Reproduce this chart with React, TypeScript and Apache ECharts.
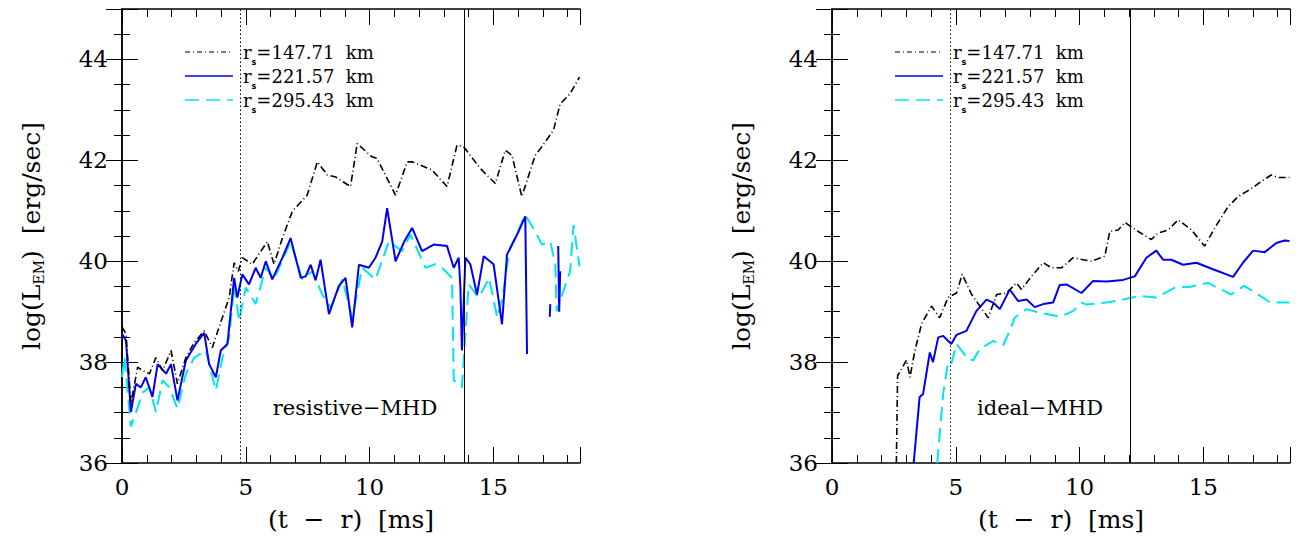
import { useRef, useEffect } from "react"
import * as echarts from "echarts"

const legendNames = ["147.71", "221.57", "295.43"]
const xTicks = [0, 5, 10, 15]
const yTicks = [36, 38, 40, 42, 44]
const panelTitles = ["resistive−MHD", "ideal−MHD"]
const dottedLineX = [4.78, 4.78]
const solidLineX = [13.83, 12.06]

const resBlack = [
  [0, 38.7], [0.16, 38.56], [0.36, 37.18], [0.63, 37.9], [0.84, 37.83], [1.11, 37.77], [1.37, 38.09],
  [1.64, 37.83], [1.98, 38.23], [2.24, 37.57], [2.58, 38.09], [2.92, 38.39], [3.32, 38.62], [3.65, 38.29],
  [3.92, 38.69], [4.33, 39.28], [4.53, 39.97], [4.7, 39.8], [4.86, 40.07], [5.26, 39.94], [5.87, 40.39],
  [6.14, 39.94], [6.48, 40.46], [6.88, 40.99], [7.48, 41.31], [7.89, 41.97], [8.29, 41.71], [8.63, 41.67],
  [9.23, 41.48], [9.5, 42.33], [10.1, 42.07], [10.3, 42.04], [11.05, 41.31], [11.52, 41.97], [11.72, 41.97],
  [12.52, 41.81], [13.13, 41.48], [13.53, 42.3], [13.8, 42.27], [14.47, 41.84], [15.08, 41.54], [15.48, 42.2],
  [15.75, 42.1], [16.15, 41.28], [16.69, 42.1], [16.96, 42.27], [17.43, 42.6], [17.7, 43.12], [18.1, 43.32],
  [18.48, 43.65],
]
const resBlue = [
  [0, 38.56], [0.16, 38.43], [0.36, 37.01], [0.56, 37.57], [0.76, 37.5], [0.96, 37.7], [1.23, 37.31],
  [1.44, 37.96], [1.78, 37.77], [1.98, 37.96], [2.24, 37.24], [2.58, 38.03], [2.98, 38.36], [3.32, 38.58],
  [3.52, 37.96], [3.79, 37.7], [3.99, 38.23], [4.26, 38.36], [4.53, 39.67], [4.66, 39.28], [4.86, 39.74],
  [5.13, 39.54], [5.4, 39.87], [5.6, 39.67], [5.81, 40.0], [6.07, 39.64], [6.48, 40.07], [6.81, 40.46],
  [7.22, 39.67], [7.42, 39.7], [7.62, 39.93], [7.82, 39.62], [8.02, 40.03], [8.36, 38.95], [8.76, 39.51],
  [9.03, 39.67], [9.3, 38.69], [9.57, 39.93], [9.97, 39.87], [10.24, 40.07], [10.51, 40.39], [10.71, 41.05],
  [11.05, 40.0], [11.4, 40.39], [11.72, 40.66], [12.12, 40.2], [12.59, 40.33], [13.13, 40.3], [13.4, 39.87],
  [13.6, 40.07], [13.67, 39.48], [13.73, 38.23], [13.87, 40.07], [14.07, 39.94], [14.34, 39.34], [14.61, 40.1],
  [15.01, 39.94], [15.35, 38.75], [15.55, 40.13], [16.02, 40.59], [16.29, 40.89], [16.36, 38.16], "-",
  [17.28, 38.9], [17.3, 39.15], "-", [17.62, 40.3], [17.66, 39.0], [17.7, 39.8],
]
const resCyan = [
  [0, 37.7], [0.1, 38.1], [0.36, 36.72], [0.56, 37.0], [0.84, 37.4], [1.11, 37.5], [1.37, 37.01], [1.64, 37.64],
  [1.91, 37.5], [2.24, 37.08], [2.58, 37.77], [2.92, 38.09], [3.39, 38.23], [3.79, 37.44], [4.06, 38.09],
  [4.33, 38.49], [4.53, 39.54], [4.73, 38.82], [5.0, 39.48], [5.4, 39.15], [5.81, 39.87], [6.14, 39.64],
  [6.81, 40.39], [7.28, 39.64], [7.69, 39.8], [8.09, 39.34], [8.43, 39.08], [8.9, 39.64], [9.3, 38.88],
  [9.7, 39.87], [10.24, 39.64], [10.78, 40.39], [11.32, 40.2], [11.65, 40.53], [12.26, 39.87], [12.66, 39.94],
  [12.93, 39.87], [13.33, 39.67], [13.4, 37.64], [13.73, 37.5], [14.0, 39.54], [14.42, 39.28], [14.83, 39.67],
  [15.16, 38.88], [15.37, 39.28], [15.64, 40.2], [16.29, 40.92], [16.69, 40.59], [16.96, 40.33], [17.3, 40.39],
  [17.5, 39.94], [17.56, 39.01], [18.1, 39.8], [18.24, 40.72], [18.48, 39.9],
]
const idealBlack = [
  [2.6, 36.0], [2.65, 37.73], [3.01, 38.04], [3.15, 37.7], [3.35, 38.23], [3.62, 38.76], [4.02, 39.11],
  [4.35, 38.88], [4.69, 39.28], [5.03, 39.37], [5.26, 39.74], [5.64, 39.34], [6.31, 38.88], [6.65, 39.34],
  [7.05, 39.37], [7.45, 39.57], [7.65, 39.44], [8.06, 39.7], [8.53, 39.97], [8.87, 39.87], [9.27, 39.87],
  [9.74, 40.07], [10.15, 40.03], [10.48, 40.0], [11.02, 40.1], [11.22, 40.59], [11.56, 40.62], [11.83, 40.77],
  [12.37, 40.59], [12.9, 40.43], [13.17, 40.56], [13.58, 40.62], [13.98, 40.82], [14.52, 40.62], [15.05, 40.3],
  [15.46, 40.66], [16.0, 41.08], [16.4, 41.28], [16.94, 41.44], [17.34, 41.58], [17.74, 41.71], [18.01, 41.66],
  [18.48, 41.66],
]
const idealBlue = [
  [3.3, 36.0], [3.54, 37.31], [3.68, 37.37], [3.95, 38.19], [4.08, 38.0], [4.29, 38.49], [4.49, 38.52],
  [4.82, 38.36], [5.03, 38.54], [5.43, 38.62], [5.83, 39.01], [6.24, 39.24], [6.51, 39.18], [6.78, 39.05],
  [7.18, 39.44], [7.52, 39.21], [7.86, 39.24], [8.19, 39.09], [8.53, 39.15], [8.93, 39.18], [9.2, 39.53],
  [9.47, 39.54], [10.08, 39.37], [10.55, 39.61], [11.09, 39.6], [11.76, 39.63], [12.23, 39.7], [12.7, 40.07],
  [13.1, 40.21], [13.37, 40.03], [13.71, 40.03], [14.18, 39.93], [14.72, 39.97], [15.39, 39.84], [16.2, 39.69],
  [16.6, 39.97], [17.01, 40.21], [17.48, 40.18], [17.95, 40.36], [18.28, 40.41], [18.48, 40.4],
]
const idealCyan = [
  [4.25, 36.0], [4.49, 37.37], [4.69, 38.0], [4.82, 37.97], [5.03, 38.36], [5.43, 38.1], [5.7, 38.03],
  [5.97, 38.26], [6.51, 38.42], [6.91, 38.33], [7.18, 38.62], [7.38, 38.88], [7.86, 39.05], [8.4, 38.98],
  [9.2, 38.9], [9.74, 39.01], [10.08, 39.18], [10.28, 39.14], [11.09, 39.18], [11.76, 39.24], [12.43, 39.31],
  [13.1, 39.28], [13.9, 39.49], [14.44, 39.49], [15.18, 39.57], [16.12, 39.34], [16.65, 39.51], [17.12, 39.37],
  [17.72, 39.18], [18.48, 39.18],
]

const font = "'DejaVu Serif', 'Liberation Serif', serif"
const styles = [
  { color: "#000000", type: [7, 3, 1, 3] as any, width: 1.6 },
  { color: "#0000ee", type: "solid" as any, width: 2 },
  { color: "#00e5ee", type: [14, 7] as any, width: 2 },
]

export default function App() {
  const chartRef = useRef<HTMLDivElement>(null)

  useEffect(() => {
    if (!chartRef.current) return
    const instance = echarts.init(chartRef.current, undefined, { renderer: "svg" })

    const grids = [
      { left: 114, right: 713, top: 1, bottom: 84 },
      { left: 824, right: 3, top: 1, bottom: 84 },
    ]
    const tick = { show: true, inside: false, length: -16, lineStyle: { color: "#000" } }
    const minor = (n: number) => ({ show: true, splitNumber: n, length: -8, lineStyle: { color: "#000" } })
    const line = { show: true, lineStyle: { color: "#000", width: 1.5 } }
    const xAxes: any[] = []
    const yAxes: any[] = []
    grids.forEach((_, g) => {
      const base = {
        type: "value", min: 0, max: 18.5, interval: 5, gridIndex: g,
        axisLine: line, axisTick: tick, minorTick: minor(5), splitLine: { show: false },
      }
      xAxes.push({
        ...base, position: "bottom",
        axisLabel: {
          fontFamily: font, fontSize: 23, color: "#000", margin: 12,
          formatter: (v: number) => (xTicks.includes(v) ? String(v) : ""),
        },
        name: "(t  −  r)  [ms]", nameLocation: "middle", nameGap: 44,
        nameTextStyle: { fontFamily: font, fontSize: 25, color: "#000" },
      })
      xAxes.push({ ...base, position: "top", axisLabel: { show: false } })
      const ybase = {
        type: "value", min: 36, max: 45, interval: 2, gridIndex: g,
        axisLine: line, axisTick: tick, minorTick: minor(4), splitLine: { show: false },
      }
      yAxes.push({
        ...ybase, position: "left",
        axisLabel: {
          fontFamily: font, fontSize: 23, color: "#000", margin: 14,
          formatter: (v: number) => (yTicks.includes(v) ? String(v) : ""),
        },
        name: "log(L{sub|EM})  [erg/sec]", nameLocation: "middle", nameGap: 76,
        nameTextStyle: {
          fontFamily: font, fontSize: 25, color: "#000",
          rich: {
            sub: { fontFamily: font, fontSize: 14, color: "#000", padding: [16, 0, 0, 0] },
          },
        },
      })
      yAxes.push({ ...ybase, position: "right", axisLabel: { show: false } })
    })

    const panels = [
      [resBlack, resBlue, resCyan],
      [idealBlack, idealBlue, idealCyan],
    ]
    const series: any[] = []
    panels.forEach((lines, g) => {
      lines.forEach((d, i) => {
        series.push({
          type: "line", xAxisIndex: g * 2, yAxisIndex: g * 2, data: d, showSymbol: false,
          connectNulls: false, clip: true, lineStyle: styles[i], z: 5 - i,
          markLine: i === 0 ? {
            silent: true, symbol: "none", label: { show: false },
            data: [
              { xAxis: dottedLineX[g], lineStyle: { color: "#000", type: [1.5, 2.5], width: 1 } },
              { xAxis: solidLineX[g], lineStyle: { color: "#000", type: "solid", width: 1 } },
            ],
          } : undefined,
        })
      })
    })

    const graphic: any[] = []
    const legendX = [177, 887]
    const rowY = [44, 68, 92]
    legendX.forEach((lx, g) => {
      legendNames.forEach((n, i) => {
        graphic.push({
          type: "line", shape: { x1: lx, y1: rowY[i], x2: lx + 48, y2: rowY[i] },
          style: {
            stroke: styles[i].color, lineWidth: i === 0 ? 1.2 : 1.6,
            lineDash: i === 0 ? [5, 3, 1, 3] : i === 2 ? [14, 7] : null,
          },
        })
        graphic.push({
          type: "text", x: lx + 58, y: rowY[i],
          style: {
            text: "r{s|s}=" + n + "  km", fontFamily: font, fontSize: 18, fill: "#000", verticalAlign: "middle",
            rich: { s: { fontSize: 8, fontFamily: "DejaVu Sans", fontWeight: "bold", padding: [20, 0, 0, 0] } },
          },
        })
      })
      graphic.push({
        type: "text", x: g === 0 ? 347 : 1032, y: 400,
        style: { text: panelTitles[g], fontFamily: font, fontSize: 21, fill: "#000", align: "center", verticalAlign: "middle" },
      })
    })

    instance.setOption({
      animation: false,
      grid: grids,
      xAxis: xAxes,
      yAxis: yAxes,
      series,
      graphic,
    })

    return () => {
      instance.dispose()
    }
  }, [])

  return <div ref={chartRef} style={{ width: 1285, height: 539 }} />
}
